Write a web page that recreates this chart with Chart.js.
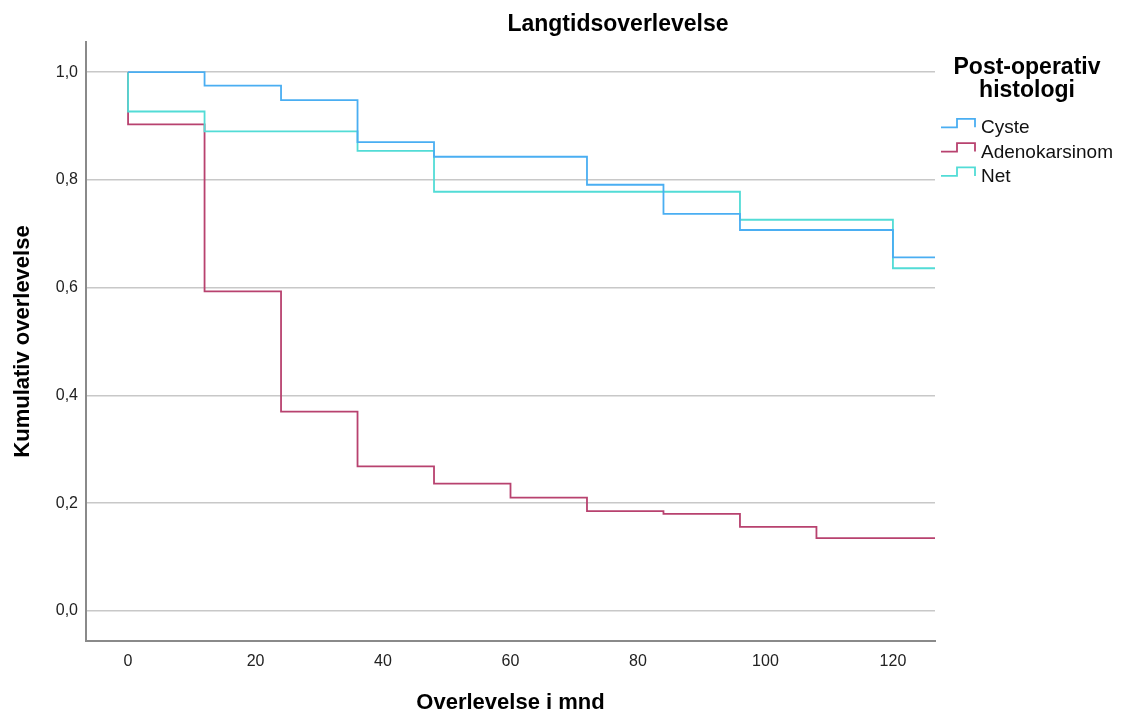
<!DOCTYPE html>
<html>
<head>
<meta charset="utf-8">
<script src="https://cdn.jsdelivr.net/npm/chart.js@4.4.1/dist/chart.umd.min.js"></script>
<style>
    html, body { margin: 0; padding: 0; background: #ffffff; }
    #wrap { position: relative; width: 1121px; height: 715px; }
</style>
</head>
<body>
<div id="wrap"><canvas id="kmChart" width="1121" height="715"></canvas></div>
<script>
// ---------------- Data ----------------

const chartTitle = 'Langtidsoverlevelse';
const legendTitle = ['Post-operativ', 'histologi'];
const xTitle = 'Overlevelse i mnd';
const yTitle = 'Kumulativ overlevelse';

const xTicks = [0, 20, 40, 60, 80, 100, 120];
const yTicks = [0, 0.2, 0.4, 0.6, 0.8, 1.0];

// tid (mnd) og kumulativ overlevelse for hver gruppe
const cysteTimes = [0, 12, 24, 36, 48, 72, 84, 96, 120, 127];
const cysteSurv  = [1.0, 0.975, 0.948, 0.870, 0.843, 0.791, 0.737, 0.707, 0.656, 0.656];

const adenoTimes = [0, 0, 12, 24, 36, 48, 60, 72, 84, 96, 108, 127];
const adenoSurv  = [1.0, 0.903, 0.593, 0.370, 0.268, 0.236, 0.210, 0.185, 0.180, 0.156, 0.135, 0.135];

const netTimes = [0, 0, 12, 36, 48, 96, 120, 127];
const netSurv  = [1.0, 0.927, 0.890, 0.854, 0.778, 0.726, 0.636, 0.636];

const FONT = "'Liberation Sans', Arial, sans-serif";

// ---------------- Helpers ----------------

function toPoints(times, surv) {
    return times.map((t, i) => ({ x: t, y: surv[i] }));
}

function makeSeries(label, times, surv, color, order) {
    return {
        label,
        data: toPoints(times, surv),
        borderColor: color,
        borderWidth: 1.8,
        stepped: 'before',
        pointRadius: 0,
        fill: false,
        tension: 0,
        order
    };
}

// tittel og legende tegnes selv (SPSS-stil med trappe-ikon)
const decorPlugin = {
    id: 'decor',
    afterDraw(chart) {
        const ctx = chart.ctx;
        ctx.save();
        ctx.fillStyle = '#000';

        ctx.font = `bold 23px ${FONT}`;
        ctx.textAlign = 'center';
        ctx.textBaseline = 'alphabetic';
        ctx.fillText(chartTitle, 618, 31);

        ctx.fillText(legendTitle[0], 1027, 74);
        ctx.fillText(legendTitle[1], 1027, 97);

        ctx.font = `19px ${FONT}`;
        ctx.textAlign = 'left';
        chart.data.datasets.forEach((ds, i) => {
            const base = 133.3 + i * 24.3;
            const low = base - 6;
            const high = base - 14.5;
            ctx.strokeStyle = ds.borderColor;
            ctx.lineWidth = 1.8;
            ctx.beginPath();
            ctx.moveTo(941, low);
            ctx.lineTo(957, low);
            ctx.lineTo(957, high);
            ctx.lineTo(975, high);
            ctx.lineTo(975, low);
            ctx.stroke();
            ctx.fillStyle = '#111';
            ctx.fillText(ds.label, 981, base);
        });
        ctx.restore();
    }
};

// ---------------- Chart ----------------

new Chart(document.getElementById('kmChart'), {
    type: 'line',
    data: {
        datasets: [
            makeSeries('Cyste', cysteTimes, cysteSurv, '#4aaef2', 0),
            makeSeries('Adenokarsinom', adenoTimes, adenoSurv, '#b8426f', 2),
            makeSeries('Net', netTimes, netSurv, '#52dcd6', 1)
        ]
    },
    options: {
        responsive: false,
        animation: false,
        layout: { padding: { top: 42, right: 186, bottom: 0, left: 0 } },
        plugins: {
            legend: { display: false },
            title: { display: false },
            tooltip: { enabled: false }
        },
        scales: {
            x: {
                type: 'linear',
                min: -6.6,
                max: 126.6,
                afterFit: s => { s.height = 74; },
                afterBuildTicks: s => { s.ticks = xTicks.map(v => ({ value: v })); },
                grid: { display: false, drawTicks: false },
                border: { display: true, color: '#8a8a8a', width: 2 },
                ticks: {
                    padding: 11,
                    color: '#222',
                    font: { family: FONT, size: 16 },
                    maxRotation: 0
                },
                title: {
                    display: true,
                    text: xTitle,
                    color: '#000',
                    font: { family: FONT, size: 22, weight: 'bold', lineHeight: 1 },
                    padding: { top: 0, bottom: 1 }
                }
            },
            y: {
                type: 'linear',
                min: -0.056,
                max: 1.056,
                afterFit: s => { s.width = 86; },
                afterBuildTicks: s => { s.ticks = yTicks.map(v => ({ value: v })); },
                grid: { color: '#c8c8c8', lineWidth: 1.5, drawTicks: false },
                border: { display: true, color: '#8a8a8a', width: 2 },
                ticks: {
                    padding: 8,
                    color: '#222',
                    font: { family: FONT, size: 16 },
                    callback: v => v.toFixed(1).replace('.', ',')
                },
                title: {
                    display: true,
                    text: yTitle,
                    color: '#000',
                    font: { family: FONT, size: 22, weight: 'bold', lineHeight: 1 },
                    padding: { top: 11.5, bottom: 0 }
                }
            }
        }
    },
    plugins: [decorPlugin]
});
</script>
</body>
</html>
